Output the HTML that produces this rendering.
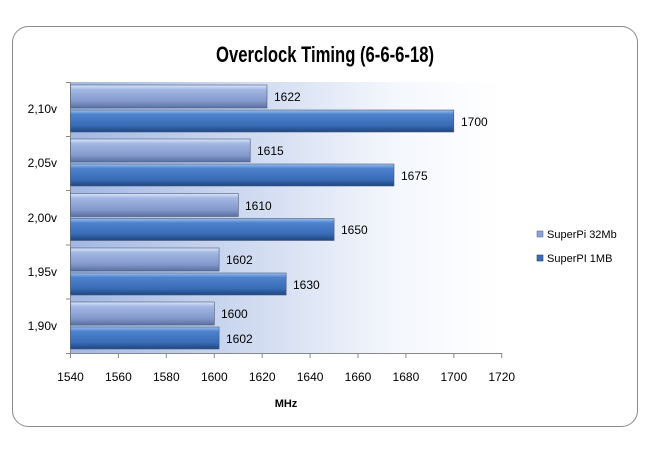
<!DOCTYPE html>
<html><head><meta charset="utf-8"><style>body{margin:0;background:#fff}svg{display:block}</style></head>
<body>
<svg width="650" height="452" viewBox="0 0 650 452" xmlns="http://www.w3.org/2000/svg" font-family="Liberation Sans, sans-serif">
<defs>
<linearGradient id="bg" x1="0" x2="1" y1="0" y2="0"><stop offset="0" stop-color="#a2b7e2"/><stop offset="0.75" stop-color="#f4f7fc"/><stop offset="1" stop-color="#ffffff"/></linearGradient>
<linearGradient id="lb" x1="0" x2="0" y1="0" y2="1"><stop offset="0" stop-color="#dce6f8"/><stop offset="0.2" stop-color="#a2b7e2"/><stop offset="0.7" stop-color="#8499cc"/><stop offset="1" stop-color="#5a70a2"/></linearGradient>
<linearGradient id="db" x1="0" x2="0" y1="0" y2="1"><stop offset="0" stop-color="#9cc0f0"/><stop offset="0.2" stop-color="#4d82cc"/><stop offset="0.7" stop-color="#3a6cb6"/><stop offset="1" stop-color="#1e4680"/></linearGradient>
</defs>
<rect x="12.5" y="26.5" width="625" height="400" rx="16" fill="#fff" stroke="#8a8a8a"/>
<text x="325" y="62" text-anchor="middle" font-size="22" font-weight="bold" textLength="218" lengthAdjust="spacingAndGlyphs" fill="#000">Overclock Timing (6-6-6-18)</text>
<rect x="70.5" y="82" width="431" height="271" fill="url(#bg)"/>
<g stroke="#888" fill="none">
<path d="M70.5 82V353.5H501.7"/>
<path d="M66 82.5H70.5M66 136.5H70.5M66 190.5H70.5M66 245H70.5M66 299H70.5M66 353.5H70.5"/>
<path d="M70.5 353v5M118.4 353v5M166.3 353v5M214.3 353v5M262.2 353v5M310.1 353v5M358 353v5M405.9 353v5M453.8 353v5M501.7 353v5"/>
</g>
<g font-size="12" fill="#000" text-anchor="middle">
<text x="70.5" y="381">1540</text><text x="118.4" y="381">1560</text><text x="166.3" y="381">1580</text><text x="214.3" y="381">1600</text><text x="262.2" y="381">1620</text><text x="310.1" y="381">1640</text><text x="358" y="381">1660</text><text x="405.9" y="381">1680</text><text x="453.8" y="381">1700</text><text x="501.7" y="381">1720</text>
<text x="286" y="407" font-weight="bold" font-size="11">MHz</text>
</g>
<g font-size="12" fill="#000" text-anchor="end">
<text x="57" y="113">2,10v</text><text x="57" y="167">2,05v</text><text x="57" y="222">2,00v</text><text x="57" y="276">1,95v</text><text x="57" y="330">1,90v</text>
</g>
<g stroke="#4a5a7a" stroke-width="0.6">
<rect x="70.5" y="85" width="196.5" height="23" fill="url(#lb)"/>
<rect x="70.5" y="110" width="383.3" height="22" fill="url(#db)"/>
<rect x="70.5" y="139" width="179.7" height="23" fill="url(#lb)"/>
<rect x="70.5" y="164" width="323.5" height="22" fill="url(#db)"/>
<rect x="70.5" y="193.5" width="167.8" height="23" fill="url(#lb)"/>
<rect x="70.5" y="218.5" width="263.6" height="22" fill="url(#db)"/>
<rect x="70.5" y="248" width="148.6" height="23" fill="url(#lb)"/>
<rect x="70.5" y="273" width="215.7" height="22" fill="url(#db)"/>
<rect x="70.5" y="302" width="143.8" height="23" fill="url(#lb)"/>
<rect x="70.5" y="327" width="148.6" height="22" fill="url(#db)"/>
</g>
<g font-size="12" fill="#000">
<text x="274" y="101">1622</text><text x="461" y="126">1700</text>
<text x="257" y="155">1615</text><text x="401" y="180">1675</text>
<text x="245" y="210">1610</text><text x="341" y="234">1650</text>
<text x="226" y="264">1602</text><text x="293" y="289">1630</text>
<text x="221" y="318">1600</text><text x="226" y="343">1602</text>
</g>
<rect x="537" y="231" width="6" height="6" fill="#8ca2d2" stroke="#5f76a8" stroke-width="0.6"/>
<rect x="537" y="255" width="6" height="6" fill="#3a6cb6" stroke="#1e4680" stroke-width="0.6"/>
<g font-size="11" fill="#000"><text x="547" y="238">SuperPi 32Mb</text><text x="547" y="262">SuperPI 1MB</text></g>
</svg>
</body></html>
